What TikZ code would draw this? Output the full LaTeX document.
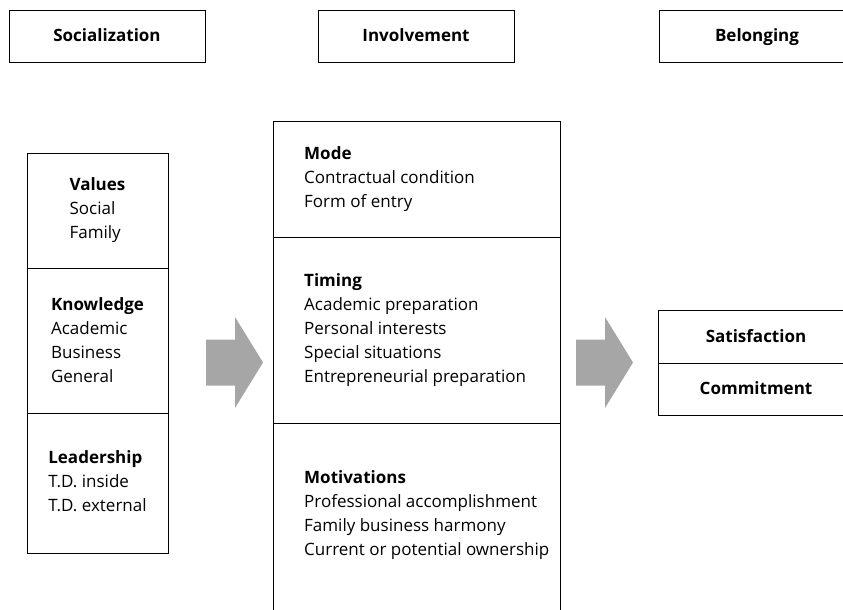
\documentclass[tikz,border=0pt]{standalone}
\usepackage{fontspec}
\setmainfont{Open Sans}
\usetikzlibrary{positioning}

\begin{document}
\begin{tikzpicture}[x=1pt,y=-1pt]
\tikzstyle{head}=[draw,line width=0.9pt,minimum width=196pt,minimum height=52pt,text height=15pt,text depth=4pt,font=\fontsize{17}{20}\selectfont\bfseries]
\tikzstyle{sect}=[draw,line width=0.9pt,inner sep=0pt,outer sep=0pt]
\tikzstyle{txt}=[align=left,inner sep=0pt,font=\fontsize{17}{24}\selectfont]
\tikzstyle{bigarrow}=[fill=gray!70]
\useasboundingbox (0,0) rectangle (843,610);
% headings
\node [head] (soc) at (107,36) {Socialization};
\node [head] (inv) at (416,36) {Involvement};
\node [head] (bel) at (757,36) {Belonging};
% socialization column
\node [sect,minimum width=141pt,minimum height=115pt] (val) at (97.5,210.5) {};
\node [sect,minimum width=141pt,minimum height=145pt,below=0pt of val] (know) {};
\node [sect,minimum width=141pt,minimum height=140pt,below=0pt of know] (lead) {};
\node [txt] (valt) at (val) {\textbf{Values}\\Social\\Family};
\node [txt] (knowt) at (know) {\textbf{Knowledge}\\Academic\\Business\\General};
\node [txt] (leadt) at ([yshift=2pt]lead) {\textbf{Leadership}\\T.D. inside\\T.D. external};
% involvement column
\node [sect,minimum width=287pt,minimum height=116pt] (mode) at (416.5,179) {};
\node [sect,minimum width=287pt,minimum height=186pt,below=0pt of mode] (timing) {};
\node [sect,minimum width=287pt,minimum height=200pt,below=0pt of timing] (motiv) {};
\node [txt,anchor=west] (modet) at ([xshift=31pt]mode.west) {\textbf{Mode}\\Contractual condition\\Form of entry};
\node [txt,anchor=west] (timingt) at ([xshift=31pt]timing.west) {\textbf{Timing}\\Academic preparation\\Personal interests\\Special situations\\Entrepreneurial preparation};
\node [txt,anchor=west] (motivt) at ([xshift=31pt,yshift=-92pt]motiv.north west) {\textbf{Motivations}\\Professional accomplishment\\Family business harmony\\Current or potential ownership};
% belonging column
\node [head,minimum height=53pt,sect] (sat) at (756,336.5) {Satisfaction};
\node [head,sect,below=0pt of sat] (comm) {Commitment};
% arrows
\foreach \x in {206,576}
  \fill [bigarrow] (\x,339.5) -- ++(29,0) -- ++(0,-22.5) -- ++(28,45.5) -- ++(-28,45.5) -- ++(0,-22.5) -- ++(-29,0) -- cycle;
\end{tikzpicture}
\end{document}
